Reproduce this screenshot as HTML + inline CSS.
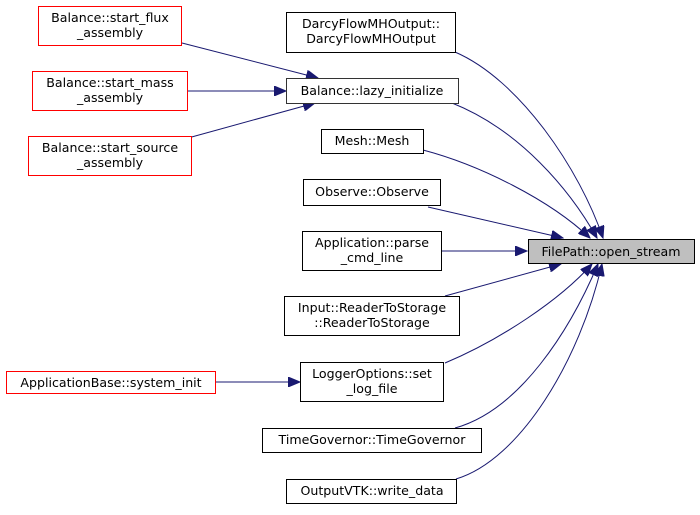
<!DOCTYPE html>
<html><head><style>
body{margin:0;background:#fff}
svg text{font-family:"DejaVu Sans","Liberation Sans",sans-serif;font-size:12.6px;fill:#000}
</style></head><body>
<svg width="700" height="510" viewBox="0 0 700 510" xmlns="http://www.w3.org/2000/svg">
<defs><marker id="a" markerWidth="13" markerHeight="10" refX="12" refY="5" orient="auto" markerUnits="userSpaceOnUse"><path d="M0,0 L12,5 L0,10 Z" fill="#191970" stroke="#191970"/></marker></defs>
<g fill="none" stroke="#191970" stroke-width="1" marker-end="url(#a)">
<path d="M455,52 C520,80 580,170 603,238"/>
<path d="M452,103 C520,130 570,190 597,238"/>
<path d="M423,150 C480,165 550,200 590,238"/>
<path d="M428,207 L563,238"/>
<path d="M441,251 L527,251"/>
<path d="M445,296 L561,264"/>
<path d="M445,363 C500,340 560,300 592,264"/>
<path d="M455,428 C520,410 570,330 598,264"/>
<path d="M456,479 C520,460 580,360 602,264"/>
<path d="M182,43 L318,78"/>
<path d="M188,91 L286,91"/>
<path d="M188,138 L315,103"/>
<path d="M216,382 L300,382"/>
</g>
<g stroke-width="1">
<rect x="38.5" y="6.5" width="143" height="39" fill="#fff" stroke="#ff0000"/>
<rect x="32.5" y="71.5" width="155" height="39" fill="#fff" stroke="#ff0000"/>
<rect x="28.5" y="136.5" width="163" height="39" fill="#fff" stroke="#ff0000"/>
<rect x="6.5" y="371.5" width="209" height="22" fill="#fff" stroke="#ff0000"/>
<rect x="286.5" y="12.5" width="169" height="40" fill="#fff" stroke="#000"/>
<rect x="286.5" y="78.5" width="172" height="25" fill="#fff" stroke="#333"/>
<rect x="321.5" y="129.5" width="102" height="24" fill="#fff" stroke="#000"/>
<rect x="303.5" y="179.5" width="137" height="26" fill="#fff" stroke="#000"/>
<rect x="302.5" y="231.5" width="139" height="39" fill="#fff" stroke="#000"/>
<rect x="284.5" y="296.5" width="175" height="39" fill="#fff" stroke="#000"/>
<rect x="300.5" y="362.5" width="143" height="39" fill="#fff" stroke="#000"/>
<rect x="262.5" y="428.5" width="219" height="24" fill="#fff" stroke="#000"/>
<rect x="286.5" y="479.5" width="170" height="24" fill="#fff" stroke="#000"/>
<rect x="528.5" y="239.5" width="166" height="24" fill="#bfbfbf" stroke="#000"/>
</g>
<g text-anchor="middle">
<text x="110" y="22">Balance::start_flux</text><text x="110" y="37">_assembly</text>
<text x="110" y="87">Balance::start_mass</text><text x="110" y="102">_assembly</text>
<text x="110" y="152">Balance::start_source</text><text x="110" y="167">_assembly</text>
<text x="111" y="387">ApplicationBase::system_init</text>
<text x="371" y="28">DarcyFlowMHOutput::</text><text x="371" y="43">DarcyFlowMHOutput</text>
<text x="372" y="95">Balance::lazy_initialize</text>
<text x="372" y="145">Mesh::Mesh</text>
<text x="372" y="196">Observe::Observe</text>
<text x="372" y="247">Application::parse</text><text x="372" y="262">_cmd_line</text>
<text x="372" y="312">Input::ReaderToStorage</text><text x="372" y="327">::ReaderToStorage</text>
<text x="372" y="378">LoggerOptions::set</text><text x="372" y="393">_log_file</text>
<text x="372" y="444">TimeGovernor::TimeGovernor</text>
<text x="372" y="495">OutputVTK::write_data</text>
<text x="611" y="256">FilePath::open_stream</text>
</g>
</svg>
</body></html>
